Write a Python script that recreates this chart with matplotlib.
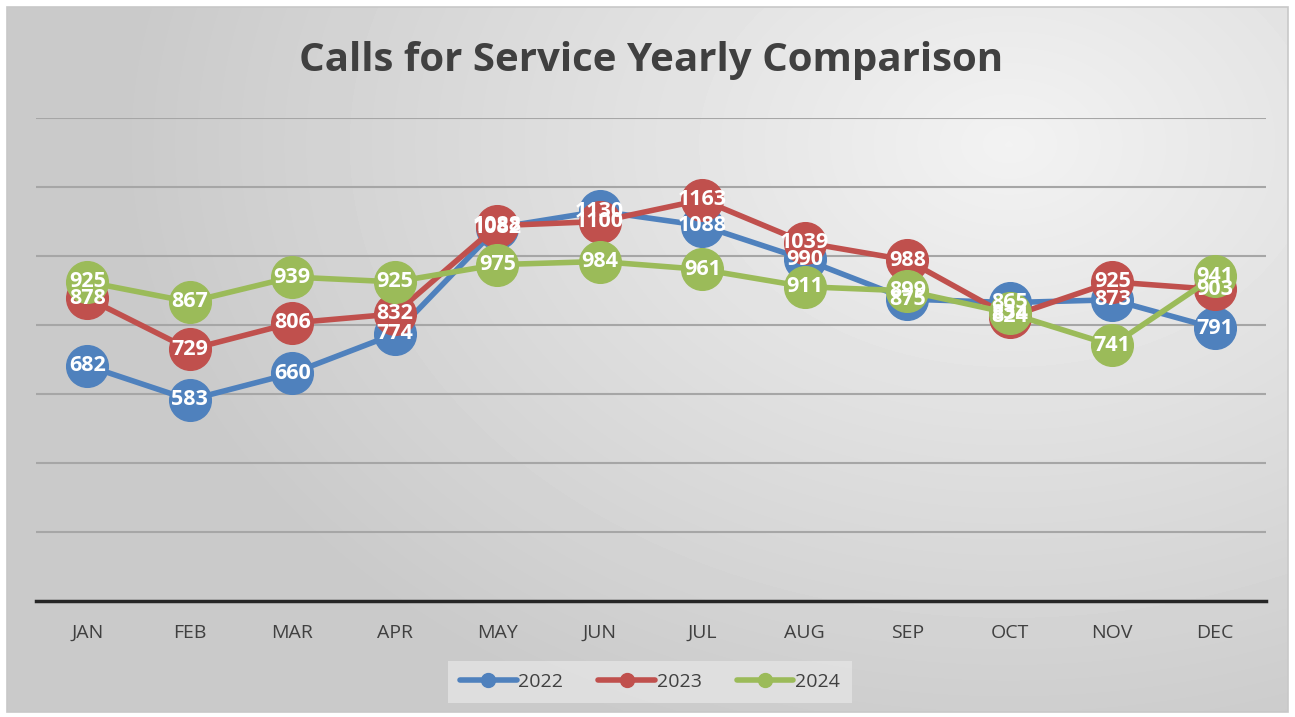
import numpy as np
import matplotlib.pyplot as plt
from matplotlib.patches import Rectangle

# ---------------------------- data ----------------------------
months = ['JAN', 'FEB', 'MAR', 'APR', 'MAY', 'JUN',
          'JUL', 'AUG', 'SEP', 'OCT', 'NOV', 'DEC']
calls_2022 = [682, 583, 660, 774, 1082, 1130, 1088, 990, 875, 865, 873, 791]
calls_2023 = [878, 729, 806, 832, 1088, 1100, 1163, 1039, 988, 824, 925, 903]
calls_2024 = [925, 867, 939, 925, 975, 984, 961, 911, 899, 834, 741, 941]

series = [('2022', calls_2022, '#4F81BD'),
          ('2023', calls_2023, '#C0504D'),
          ('2024', calls_2024, '#9BBB59')]

plt.rcParams['font.family'] = ['Open Sans', 'DejaVu Sans']

fig = plt.figure(figsize=(12.95, 7.17), dpi=100)

# gradient background inside a thin frame
bg = fig.add_axes([0, 0, 1, 1], zorder=-10)
yy, xx = np.mgrid[0:1:200j, 0:1:360j]
r = np.sqrt(((xx - 0.78) * 1.3) ** 2 + (yy - 0.2) ** 2)
shade = 0.95 - 0.16 * np.clip(r / 0.9, 0, 1)
bg.imshow(shade, cmap='gray', vmin=0, vmax=1, extent=[0, 1, 1, 0],
          aspect='auto', interpolation='bilinear')
bg.set_xlim(0, 1)
bg.set_ylim(1, 0)
bg.axis('off')
fig.patches.append(Rectangle((0, 0), 7 / 1295, 1, transform=fig.transFigure,
                             facecolor='white', edgecolor='none', zorder=-5))
fig.patches.append(Rectangle((1288 / 1295, 0), 7 / 1295, 1, transform=fig.transFigure,
                             facecolor='white', edgecolor='none', zorder=-5))
fig.patches.append(Rectangle((0, 0), 1, 5 / 717, transform=fig.transFigure,
                             facecolor='white', edgecolor='none', zorder=-5))
fig.patches.append(Rectangle((0, 710 / 717), 1, 7 / 717, transform=fig.transFigure,
                             facecolor='white', edgecolor='none', zorder=-5))
fig.patches.append(Rectangle((7 / 1295, 5 / 717), 1281 / 1295, 705 / 717,
                             transform=fig.transFigure, facecolor='none',
                             edgecolor='#c8c8c8', linewidth=1.2, zorder=-4))

# main plot area
ax = fig.add_axes([36 / 1295, 1 - 601 / 717, 1230 / 1295, 483 / 717])
ax.patch.set_alpha(0)
x = np.arange(len(months))

for name, vals, col in series:
    ax.plot(x, vals, '-o', color=col, linewidth=4, markersize=30,
            label=name, solid_capstyle='round')
    for xi, v in zip(x, vals):
        ax.text(xi, v, str(v), color='white', fontsize=15.5, fontweight='bold',
                ha='center', va='center')

ax.set_xlim(-0.5, len(months) - 0.5)
ax.set_ylim(0, 1400)
ax.set_yticks(np.arange(200, 1401, 200))
ax.yaxis.grid(True, color='#a6a6a6', linewidth=1.5)
ax.set_axisbelow(True)
ax.tick_params(axis='y', left=False, labelleft=False)
ax.tick_params(axis='x', bottom=False, labelsize=14, colors='#404040', pad=13)
ax.set_xticks(x)
ax.set_xticklabels(months)
for s in ['top', 'right', 'left']:
    ax.spines[s].set_visible(False)
ax.spines['bottom'].set_color('#262626')
ax.spines['bottom'].set_linewidth(2.5)

ax.set_title('Calls for Service Yearly Comparison', fontsize=29,
             fontweight='bold', color='#404040', pad=34)

# legend with small markers
handles = [plt.Line2D([0], [0], color=col, linewidth=4, marker='o',
                      markersize=10, solid_capstyle='round')
           for _, _, col in series]
leg = fig.legend(handles, [s[0] for s in series], loc='center',
                 bbox_to_anchor=(650 / 1295, 1 - 682 / 717), ncol=3,
                 fontsize=14, frameon=True, handlelength=2.9, handletextpad=0.1,
                 columnspacing=1.8, borderpad=0.3, borderaxespad=0)
leg.get_frame().set_facecolor('#e4e4e4')
leg.get_frame().set_edgecolor('none')
leg.get_frame().set_boxstyle('square')
for t in leg.get_texts():
    t.set_color('#404040')

fig.savefig('out.png', dpi=100)
